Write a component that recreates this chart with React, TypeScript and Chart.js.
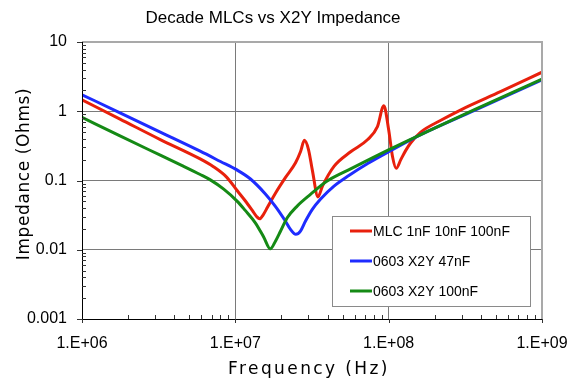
import React, { useEffect, useRef } from "react";
import { Chart, registerables } from "chart.js";
Chart.register(...registerables);

const chartTitle = "Decade MLCs vs X2Y Impedance";
const xTitle = "Frequency (Hz)";
const yTitle = "Impedance (Ohms)";

const xTickValues = [1e6, 1e7, 1e8, 1e9];
const xTickLabels = ["1.E+06", "1.E+07", "1.E+08", "1.E+09"];
const yTickValues = [0.001, 0.01, 0.1, 1, 10];
const yTickLabels = ["0.001", "0.01", "0.1", "1", "10"];

const seriesLabels = ["MLC 1nF 10nF 100nF", "0603 X2Y 47nF", "0603 X2Y 100nF"];
const seriesColors = ["#e8200c", "#1e2cff", "#158a15"];

// MLC 1nF 10nF 100nF
const freqMLC = [
  1e6, 1.77e6, 3.24e6, 5.9e6, 7.2e6, 8.8e6, 1.03e7, 1.16e7, 1.29e7, 1.38e7,
  1.44e7, 1.52e7, 1.62e7, 1.83e7, 2.12e7, 2.47e7, 2.66e7, 2.82e7, 3.0e7, 3.18e7,
  3.46e7, 3.7e7, 4.4e7, 5.65e7, 7.3e7, 8.45e7, 9.3e7, 1.0e8, 1.06e8, 1.12e8,
  1.2e8, 1.29e8, 1.39e8, 1.62e8, 2.19e8, 2.96e8, 5.4e8, 1e9,
];
const zMLC = [
  1.46, 0.77, 0.39, 0.205, 0.158, 0.111, 0.071, 0.051, 0.037, 0.03,
  0.028, 0.032, 0.041, 0.066, 0.11, 0.18, 0.26, 0.38, 0.28, 0.14,
  0.058, 0.083, 0.16, 0.26, 0.39, 0.6, 1.2, 0.54, 0.22, 0.15,
  0.2, 0.27, 0.348, 0.5, 0.74, 1.05, 1.93, 3.66,
];

// 0603 X2Y 47nF
const freqX2Y47 = [
  1e6, 1.77e6, 3.24e6, 5.9e6, 8e6, 1.03e7, 1.25e7, 1.57e7, 1.83e7, 2.12e7,
  2.29e7, 2.48e7, 2.66e7, 2.87e7, 3.17e7, 3.6e7, 4.4e7, 5.5e7, 7.3e7, 1.03e8,
  1.62e8, 3.6e8, 1e9,
];
const zX2Y47 = [
  1.73, 0.95, 0.5, 0.265, 0.188, 0.141, 0.106, 0.064, 0.042, 0.026,
  0.0197, 0.0167, 0.0186, 0.026, 0.038, 0.054, 0.083, 0.118, 0.176, 0.27,
  0.46, 1.02, 2.85,
];

// 0603 X2Y 100nF
const freqX2Y100 = [
  1e6, 1.77e6, 3.24e6, 4.5e6, 5.9e6, 6.87e6, 8.4e6, 1.03e7, 1.16e7, 1.35e7,
  1.53e7, 1.69e7, 1.83e7, 1.97e7, 2.18e7, 2.53e7, 3.09e7, 3.97e7, 5.65e7, 1.03e8,
  1.62e8, 3.6e8, 1e9,
];
const zX2Y100 = [
  0.815, 0.44, 0.232, 0.164, 0.122, 0.102, 0.075, 0.05, 0.037, 0.0245,
  0.0153, 0.0103, 0.0134, 0.0185, 0.029, 0.0427, 0.063, 0.098, 0.147, 0.286,
  0.46, 1.05, 2.9,
];

const toPoints = (xs: number[], ys: number[]) => xs.map((x, i) => ({ x, y: ys[i] }));

const decorPlugin = {
  id: "decor",
  afterDraw(chart: any) {
    const { ctx, chartArea: a, scales } = chart;
    const xs = scales.x;
    const ys = scales.y;
    ctx.save();
    // top / right frame
    ctx.strokeStyle = "#a9a9a9";
    ctx.lineWidth = 2;
    ctx.beginPath();
    ctx.moveTo(a.left, a.top);
    ctx.lineTo(a.right, a.top);
    ctx.lineTo(a.right, a.bottom);
    ctx.stroke();

    // axis lines
    ctx.strokeStyle = "#000";
    ctx.lineWidth = 1;
    ctx.beginPath();
    ctx.moveTo(Math.round(a.left) + 0.5, a.top);
    ctx.lineTo(Math.round(a.left) + 0.5, a.bottom + 4);
    ctx.moveTo(a.left - 5, Math.round(a.bottom) + 0.5);
    ctx.lineTo(a.right, Math.round(a.bottom) + 0.5);
    ctx.stroke();

    // ticks
    ctx.strokeStyle = "#333";
    ctx.beginPath();
    for (let n = 6; n <= 8; n++) {
      for (let k = 2; k <= 9; k++) {
        const px = Math.round(xs.getPixelForValue(k * Math.pow(10, n))) + 0.5;
        ctx.moveTo(px, a.bottom);
        ctx.lineTo(px, a.bottom - 4);
      }
    }
    for (const v of xTickValues) {
      const px = Math.round(xs.getPixelForValue(v)) + 0.5;
      ctx.moveTo(px, a.bottom);
      ctx.lineTo(px, a.bottom + 4);
    }
    for (let n = -3; n <= 0; n++) {
      for (let k = 2; k <= 9; k++) {
        const py = Math.round(ys.getPixelForValue(k * Math.pow(10, n))) + 0.5;
        ctx.moveTo(a.left, py);
        ctx.lineTo(a.left + 4, py);
      }
    }
    for (const v of yTickValues) {
      const py = Math.round(ys.getPixelForValue(v)) + 0.5;
      ctx.moveTo(a.left - 5, py);
      ctx.lineTo(a.left, py);
    }
    ctx.stroke();

    // legend
    const lx = 332, ly = 216, lw = 198, lh = 90;
    ctx.fillStyle = "#fff";
    ctx.fillRect(lx, ly, lw, lh);
    ctx.strokeStyle = "#8a8a8a";
    ctx.lineWidth = 1;
    ctx.strokeRect(lx + 0.5, ly + 0.5, lw, lh);
    ctx.font = '14px "Liberation Sans", Arial, sans-serif';
    ctx.textBaseline = "middle";
    ctx.textAlign = "left";
    seriesLabels.forEach((lab, i) => {
      const y = 231 + i * 30;
      ctx.strokeStyle = seriesColors[i];
      ctx.lineWidth = 3;
      ctx.beginPath();
      ctx.moveTo(350, y);
      ctx.lineTo(372, y);
      ctx.stroke();
      ctx.fillStyle = "#000";
      ctx.fillText(lab, 373, y + 1);
    });

    // titles
    ctx.fillStyle = "#000";
    ctx.textAlign = "center";
    ctx.textBaseline = "middle";
    ctx.font = '17px "Liberation Sans", Arial, sans-serif';
    ctx.fillText(chartTitle, 273, 18);

    ctx.font = '17px "DejaVu Sans", sans-serif';
    (ctx as any).letterSpacing = "2.4px";
    ctx.fillText(xTitle, 309, 370);

    (ctx as any).letterSpacing = "0.6px";
    ctx.translate(25, 174);
    ctx.rotate(-Math.PI / 2);
    ctx.fillText(yTitle, 0, 0);
    ctx.restore();
  },
};

export default function App() {
  const ref = useRef<HTMLCanvasElement | null>(null);
  useEffect(() => {
    if (!ref.current) return;
    const chart = new Chart(ref.current, {
      type: "line",
      data: {
        datasets: [
          { label: seriesLabels[0], data: toPoints(freqMLC, zMLC), order: 2 },
          { label: seriesLabels[1], data: toPoints(freqX2Y47, zX2Y47), order: 1 },
          { label: seriesLabels[2], data: toPoints(freqX2Y100, zX2Y100), order: 0 },
        ].map((d, i) => ({
          ...d,
          borderColor: seriesColors[i],
          backgroundColor: seriesColors[i],
          borderWidth: 3,
          pointRadius: 0,
          fill: false,
          cubicInterpolationMode: "monotone" as const,
        })),
      },
      options: {
        animation: false,
        responsive: false,
        devicePixelRatio: 1,
        layout: { padding: { top: 42, right: 42, left: 0, bottom: 0 } },
        plugins: {
          legend: { display: false },
          title: { display: false },
          tooltip: { enabled: false },
        },
        scales: {
          x: {
            type: "logarithmic",
            min: 1e6,
            max: 1e9,
            afterBuildTicks: (s: any) => {
              s.ticks = xTickValues.map((v) => ({ value: v }));
            },
            afterFit: (s: any) => {
              s.height = 62;
            },
            ticks: {
              callback: (_v: any, i: number) => xTickLabels[i],
              font: { family: '"Liberation Sans", Arial, sans-serif', size: 16 },
              color: "#000",
              padding: 15,
              maxRotation: 0,
              autoSkip: false,
            },
            grid: { color: "#7a7a7a", lineWidth: 1, drawTicks: false },
            border: { display: false },
          },
          y: {
            type: "logarithmic",
            min: 0.001,
            max: 10,
            afterBuildTicks: (s: any) => {
              s.ticks = yTickValues.map((v) => ({ value: v }));
            },
            afterFit: (s: any) => {
              s.width = 82;
            },
            ticks: {
              callback: (_v: any, i: number) => yTickLabels[i],
              font: { family: '"Liberation Sans", Arial, sans-serif', size: 16 },
              color: "#000",
              padding: 15,
              autoSkip: false,
            },
            grid: { color: "#7a7a7a", lineWidth: 1, drawTicks: false },
            border: { display: false },
          },
        },
      },
      plugins: [decorPlugin],
    } as any);
    return () => chart.destroy();
  }, []);
  return (
    <div style={{ position: "absolute", left: 0, top: 0, width: 584, height: 381, background: "#fff" }}>
      <canvas ref={ref} width={584} height={381} />
    </div>
  );
}
